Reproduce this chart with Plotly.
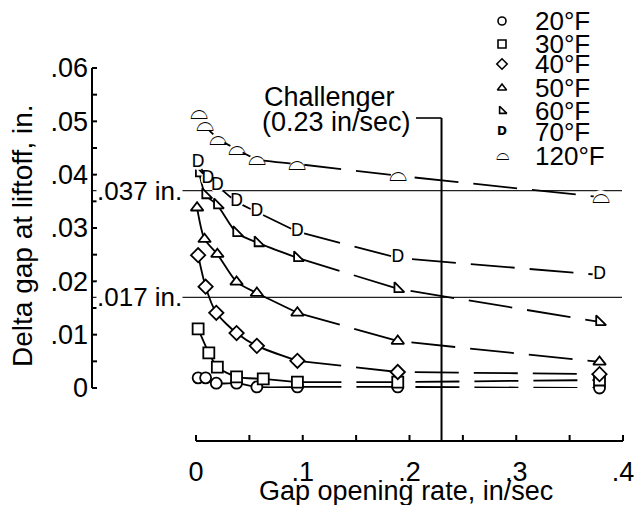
import plotly.graph_objects as go

# ---------------- data ----------------
series_names = ["20°F", "30°F", "40°F", "50°F", "60°F", "70°F", "120°F"]

x_20 = [0.002, 0.009, 0.019, 0.038, 0.057, 0.095, 0.189, 0.378]
y_20 = [0.0019, 0.0019, 0.0009, 0.0009, 0.0002, 0.0002, 0.0002, 0.0000]

x_30 = [0.002, 0.012, 0.020, 0.038, 0.063, 0.095, 0.189, 0.378]
y_30 = [0.0111, 0.0066, 0.0039, 0.0021, 0.0017, 0.0011, 0.0011, 0.0015]

x_40 = [0.002, 0.009, 0.019, 0.038, 0.057, 0.095, 0.189, 0.378]
y_40 = [0.0249, 0.0190, 0.0141, 0.0103, 0.0079, 0.0051, 0.0030, 0.0026]

x_50 = [0.001, 0.008, 0.020, 0.038, 0.057, 0.095, 0.189, 0.378]
y_50 = [0.0338, 0.0279, 0.0251, 0.0199, 0.0178, 0.0141, 0.0088, 0.0049]

x_60 = [0.003, 0.009, 0.020, 0.038, 0.058, 0.095, 0.189, 0.378]
y_60 = [0.0403, 0.0362, 0.0343, 0.0291, 0.0272, 0.0244, 0.0186, 0.0124]

x_70 = [0.002, 0.011, 0.020, 0.038, 0.057, 0.095, 0.189, 0.378]
y_70 = [0.0422, 0.0392, 0.0379, 0.0349, 0.0330, 0.0293, 0.0244, 0.0212]

x_120 = [0.003, 0.008, 0.021, 0.038, 0.057, 0.095, 0.189, 0.379]
y_120 = [0.0516, 0.0493, 0.0467, 0.0448, 0.0429, 0.0420, 0.0398, 0.0358]

ref_levels = [0.037, 0.017]
ref_labels = [".037 in.", ".017 in."]
challenger_rate = 0.23
challenger_lines = ["Challenger", "(0.23 in/sec)"]

x_tickvals = [0, 0.05, 0.1, 0.15, 0.2, 0.25, 0.3, 0.35, 0.4]
x_ticktext = ["0", "", ".1", "", ".2", "", ".3", "", ".4"]
y_tickvals = [0, 0.005, 0.01, 0.015, 0.02, 0.025, 0.03, 0.035, 0.04, 0.045, 0.05, 0.055, 0.06]
y_ticktext = ["0", "", ".01", "", ".02", "", ".03", "", ".04", "", ".05", "", ".06"]

x_title = "Gap opening rate, in/sec"
y_title = "Delta gap at liftoff, in."

# ---------------- layout constants (pixels) ----------------
W, H = 637, 505
XD0, XD1 = 196, 623       # x-axis extent (0 .. 0.4)
YD0, YD1 = 388, 68        # y-axis extent (0 .. 0.06)
XAX_Y = 441               # where the x axis line sits
YAX_X = 92                # where the y axis line sits
TICK = 5
FONT = "Liberation Sans, Arial, Helvetica, sans-serif"
XR = [x_tickvals[0], x_tickvals[-1]]
YR = [y_tickvals[0], y_tickvals[-1]]


def fx(p):
    return p / W


def fy(p):
    return (H - p) / H


def xp(v):  # x axis value -> paper
    return fx(XD0) + (v - XR[0]) / (XR[1] - XR[0]) * (fx(XD1) - fx(XD0))


def yp(v):  # y axis value -> paper
    return fy(YD0) + (v - YR[0]) / (YR[1] - YR[0]) * (fy(YD1) - fy(YD0))


series_x = [x_20, x_30, x_40, x_50, x_60, x_70, x_120]
series_y = [y_20, y_30, y_40, y_50, y_60, y_70, y_120]
styles = [("m", "circle"), ("m", "square"), ("m", "diamond"), ("m", "triangle-up"),
          ("m", "triangle-sw"), ("t", "D"), ("t", "\u2313")]
glyph_sizes = {"D": 17, "\u2313": 23}

fig = go.Figure()
N_SOLID = 6
for xs, ys in zip(series_x, series_y):
    fig.add_trace(go.Scatter(x=xs[:N_SOLID], y=ys[:N_SOLID], mode="lines",
                             line=dict(color="black", width=1.8, shape="spline", smoothing=0.7),
                             showlegend=False, hoverinfo="skip"))
    fig.add_trace(go.Scatter(x=xs[N_SOLID - 1:], y=ys[N_SOLID - 1:], mode="lines",
                             line=dict(color="black", width=1.8, dash="44px,15px"),
                             showlegend=False, hoverinfo="skip"))

for xs, ys, (kind, val), name in zip(series_x, series_y, styles, series_names):
    if kind == "m":
        fig.add_trace(go.Scatter(x=xs, y=ys, mode="markers", name=name, showlegend=False,
                                 cliponaxis=False,
                                 marker=dict(symbol=val, size=11, color="white",
                                             line=dict(color="black", width=1.8))))
    else:
        fig.add_trace(go.Scatter(x=xs, y=ys, mode="markers", showlegend=False, hoverinfo="skip",
                                 cliponaxis=False,
                                 marker=dict(symbol="circle", size=14, color="white",
                                             line=dict(width=0))))
        fig.add_trace(go.Scatter(x=xs, y=ys, mode="text", name=name, showlegend=False,
                                 cliponaxis=False,
                                 text=[val] * len(xs), textposition="middle center",
                                 textfont=dict(family="DejaVu Sans", size=glyph_sizes[val],
                                               color="black")))

# legend keys, drawn on a full-figure pixel-aligned helper subplot
leg_rows = [21, 44, 64, 88, 111, 132, 156]
LEG_MX, LEG_TX = 502, 533
for (kind, val), name, ry in zip(styles, series_names, leg_rows):
    if kind == "m":
        fig.add_trace(go.Scatter(x=[LEG_MX], y=[ry], xaxis="x2", yaxis="y2", mode="markers",
                                 showlegend=False, hoverinfo="skip", cliponaxis=False,
                                 marker=dict(symbol=val, size=8, color="white",
                                             line=dict(color="black", width=1.6))))
    else:
        fig.add_trace(go.Scatter(x=[LEG_MX], y=[ry], xaxis="x2", yaxis="y2", mode="text",
                                 showlegend=False, hoverinfo="skip", cliponaxis=False,
                                 text=[val], textposition="middle center",
                                 textfont=dict(family="DejaVu Sans",
                                               size=round(glyph_sizes[val] * 0.72),
                                               weight="bold" if val == "D" else "normal",
                                               color="black")))
    fig.add_annotation(text=name, xref="paper", yref="paper", x=fx(LEG_TX), y=fy(ry),
                       xanchor="left", yanchor="middle", showarrow=False,
                       font=dict(family=FONT, size=26, color="black"))

shapes = []
BLK = dict(color="black", width=2)
# axis lines and tick marks
shapes.append(dict(type="line", xref="paper", yref="paper", x0=fx(YAX_X), x1=fx(YAX_X),
                   y0=yp(YR[0]), y1=yp(YR[1]), line=BLK))
shapes.append(dict(type="line", xref="paper", yref="paper", x0=xp(XR[0]), x1=xp(XR[1]),
                   y0=fy(XAX_Y), y1=fy(XAX_Y), line=BLK))
for v in x_tickvals:
    shapes.append(dict(type="line", xref="paper", yref="paper", x0=xp(v), x1=xp(v),
                       y0=fy(XAX_Y), y1=fy(XAX_Y - TICK - 1), line=BLK))
for v in y_tickvals:
    shapes.append(dict(type="line", xref="paper", yref="paper", x0=fx(YAX_X), x1=fx(YAX_X + TICK),
                       y0=yp(v), y1=yp(v), line=BLK))
# reference levels
for lv in ref_levels:
    shapes.append(dict(type="line", xref="paper", yref="paper", x0=fx(YAX_X), x1=fx(622),
                       y0=yp(lv), y1=yp(lv), line=dict(color="#222", width=1.2), layer="below"))
# Challenger line + bracket
shapes.append(dict(type="line", xref="paper", yref="paper", x0=xp(challenger_rate),
                   x1=xp(challenger_rate), y0=fy(XAX_Y), y1=fy(118), line=BLK))
shapes.append(dict(type="line", xref="paper", yref="paper", x0=fx(416), x1=xp(challenger_rate),
                   y0=fy(118), y1=fy(118), line=dict(color="black", width=1.6)))

for lv, lab in zip(ref_levels, ref_labels):
    fig.add_annotation(text=lab, xref="paper", yref="paper", x=fx(96), y=yp(lv), xanchor="left",
                       yanchor="middle", showarrow=False, bgcolor="white", borderpad=0,
                       font=dict(family=FONT, size=26, color="black"))

for txt, cx, cy in zip(challenger_lines, [330, 336], [97, 122]):
    fig.add_annotation(text=txt, xref="paper", yref="paper", x=fx(cx), y=fy(cy),
                       xanchor="center", yanchor="middle", showarrow=False,
                       font=dict(family=FONT, size=27, color="black"))

fig.add_annotation(text=x_title, xref="paper", yref="paper", x=fx(406), y=fy(491),
                   xanchor="center", yanchor="middle", showarrow=False,
                   font=dict(family=FONT, size=27, color="black"))
fig.add_annotation(text=y_title, xref="paper", yref="paper", x=fx(23), y=fy(236),
                   xanchor="center", yanchor="middle", showarrow=False, textangle=-90,
                   font=dict(family=FONT, size=28, color="black"))

axis_common = dict(showgrid=False, zeroline=False, showline=False, ticks="",
                   automargin=False, fixedrange=True,
                   tickfont=dict(family=FONT, size=27, color="black"))

fig.update_layout(
    width=W, height=H,
    margin=dict(l=0, r=0, t=0, b=0, pad=0),
    paper_bgcolor="white", plot_bgcolor="rgba(0,0,0,0)",
    showlegend=False,
    shapes=shapes,
    xaxis=dict(domain=[fx(XD0), fx(XD1)], range=XR, anchor="free", position=fy(XAX_Y),
               tickvals=x_tickvals, ticktext=x_ticktext, ticklabelstandoff=12,
               **axis_common),
    yaxis=dict(domain=[fy(YD0), fy(YD1)], range=YR, anchor="free", position=fx(YAX_X),
               tickvals=y_tickvals, ticktext=y_ticktext, ticklabelstandoff=4,
               **axis_common),
    xaxis2=dict(domain=[0, 1], anchor="y2", range=[0, W], visible=False, fixedrange=True),
    yaxis2=dict(domain=[0, 1], anchor="x2", range=[H, 0], visible=False, fixedrange=True),
)

fig.write_html("out.html", config={"displayModeBar": False},
               post_script="document.body.style.margin='0px';")
